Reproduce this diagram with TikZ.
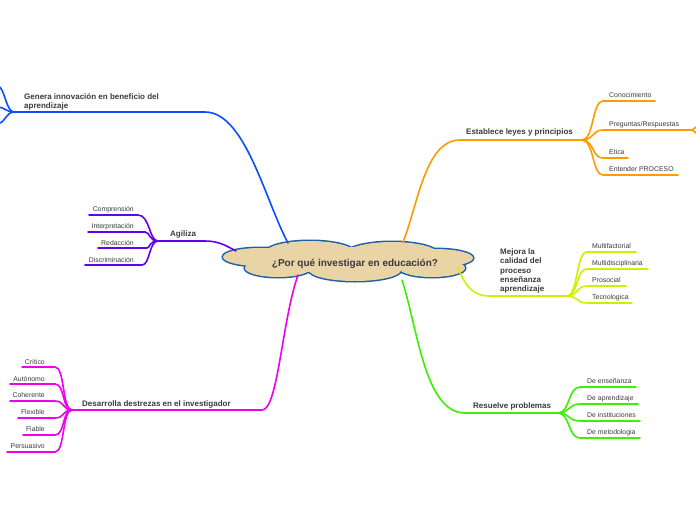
\documentclass[tikz,border=0pt]{standalone}
\usepackage{fontspec}
\setmainfont{Liberation Sans}
\definecolor{cblue}{HTML}{0A4EFF}
\definecolor{corange}{HTML}{FF9A00}
\definecolor{cyellow}{HTML}{CCF000}
\definecolor{cgreen}{HTML}{3CF000}
\definecolor{cmagenta}{HTML}{EE00EE}
\definecolor{cpurple}{HTML}{6000EE}
\definecolor{txt}{HTML}{3A3A3A}
\definecolor{cloudline}{HTML}{1F5FA8}
\definecolor{cloudfill}{HTML}{E9D4A6}
\begin{document}
\begin{tikzpicture}[x=1pt,y=-1pt,
  topic/.style={font=\fontsize{8}{9.2}\selectfont\bfseries, text=txt, inner sep=0pt, anchor=west, align=left},
  leaf/.style={font=\fontsize{6.9}{8}\selectfont, text=txt, inner sep=0pt, anchor=west},
  leafr/.style={leaf, anchor=east},
  br/.style={line width=1.6pt, line cap=round}]
\useasboundingbox (0,0) rectangle (696,520);
% cloud
\def\cloudparts{260/257/37/9, 435/258/38/9, 310/253/45/12, 392/254/46/12, 278/268/33/9, 355/270/46/11, 432/268/33/9}
\foreach \a/\b/\c/\d in \cloudparts {\draw[cloudline, line width=3pt] (\a,\b) ellipse [x radius=\c, y radius=\d];}
\foreach \a/\b/\c/\d in \cloudparts {\fill[cloudfill] (\a,\b) ellipse [x radius=\c, y radius=\d];}
\fill[cloudfill] (348,260) ellipse [x radius=95, y radius=13];
\node[font=\fontsize{10}{12}\selectfont\bfseries, text=txt, inner sep=0pt] (center) at (355,264) {¿Por qué investigar en educación?};

% blue
\coordinate (b0) at (288,243); \coordinate (b1) at (205,112); \coordinate (b2) at (14,112);
\draw[br,cblue] (b0) .. controls (265,200) and (245,112) .. (b1) -- (b2);
\coordinate (bl1) at (-2,86); \coordinate (bl2) at (-2,107); \coordinate (bl3) at (-2,124);
\draw[br,cblue] (b2) .. controls (6,112) and (5,88) .. (bl1);
\draw[br,cblue] (b2) .. controls (6,112) and (4,107) .. (bl2);
\draw[br,cblue] (b2) .. controls (6,112) and (5,123) .. (bl3);
\node[topic] (tblue) at (24,101.5) {Genera innovación en beneficio del\\aprendizaje};

% orange
\coordinate (o0) at (403,242); \coordinate (o1) at (460,140); \coordinate (o2) at (582,140);
\draw[br,corange] (o0) .. controls (418,205) and (425,140) .. (o1) -- (o2);
\node[topic] (torange) at (466,132.5) {Establece leyes y principios};
\foreach \y/\xe/\t [count=\i] in {101/655/Conocimiento, 130/688/Preguntas\slash Respuestas, 158/628/Etica, 175/678/Entender PROCESO} {
  \coordinate (os\i) at (603,\y); \coordinate (oe\i) at (\xe,\y);
  \draw[br,corange] (o2) .. controls (594,140) and (592,\y) .. (os\i) -- (oe\i);
  \node[leaf] (ol\i) at (609,\y-5.5) {\t};
}
\coordinate (or1) at (698,125); \coordinate (or2) at (698,135);
\draw[br,corange] (oe2) .. controls (693,130) .. (or1);
\draw[br,corange] (oe2) .. controls (693,130) .. (or2);

% yellow
\coordinate (y0) at (458,268); \coordinate (y1) at (490,296); \coordinate (y2) at (567,296);
\draw[br,cyellow] (y0) .. controls (465,285) and (472,296) .. (y1) -- (y2);
\node[topic] (tyellow) at (500,271) {Mejora la\\calidad del\\proceso\\enseñanza\\aprendizaje};
\foreach \y/\xe/\t [count=\i] in {252/636/Multifactorial, 269/648/Multidisciplinaria, 286/626/Prosocial, 303/632/Tecnologica} {
  \coordinate (ys\i) at (587,\y); \coordinate (ye\i) at (\xe,\y);
  \draw[br,cyellow] (y2) .. controls (578,296) and (576,\y) .. (ys\i) -- (ye\i);
  \node[leaf] (yl\i) at (592,\y-5.5) {\t};
}

% green
\coordinate (g0) at (402,280); \coordinate (g1) at (465,413); \coordinate (g2) at (558,413);
\draw[br,cgreen] (g0) .. controls (418,330) and (425,413) .. (g1) -- (g2);
\node[topic] (tgreen) at (473,406.5) {Resuelve problemas};
\foreach \y/\xe/\t [count=\i] in {387/636/De enseñanza, 404/638/De aprendizaje, 421/640/De instituciones, 438/640/De metodologia} {
  \coordinate (gs\i) at (580,\y); \coordinate (ge\i) at (\xe,\y);
  \draw[br,cgreen] (g2) .. controls (570,413) and (568,\y) .. (gs\i) -- (ge\i);
  \node[leaf] (gl\i) at (587,\y-5.5) {\t};
}

% magenta
\coordinate (m0) at (298,275); \coordinate (m1) at (262,410); \coordinate (m2) at (72,410);
\draw[br,cmagenta] (m0) .. controls (282,320) and (278,410) .. (m1) -- (m2);
\node[topic] (tmagenta) at (82,404.5) {Desarrolla destrezas en el investigador};
\foreach \y/\xl/\t [count=\i] in {367/22/Crítico, 384/10/Autónomo, 401/10/Coherente, 418/18/Flexible, 435/23/Fiable, 452/7/Persuasivo} {
  \coordinate (ms\i) at (55,\y); \coordinate (me\i) at (\xl,\y);
  \draw[br,cmagenta] (m2) .. controls (62,410) and (65,\y) .. (ms\i) -- (me\i);
  \node[leafr] (ml\i) at (45,\y-5.5) {\t};
}

% purple
\coordinate (p0) at (236,251); \coordinate (p1) at (205,241); \coordinate (p2) at (158,241);
\draw[br,cpurple] (p0) .. controls (225,245) and (218,241) .. (p1) -- (p2);
\node[topic] (tpurple) at (170,234.5) {Agiliza};
\foreach \y/\xe/\xl/\t [count=\i] in {215/138/89/Comprensión, 232/145/88/Interpretación, 248/147/98/Redacción, 265/142/85/Discriminación} {
  \coordinate (ps\i) at (\xe,\y); \coordinate (pe\i) at (\xl,\y);
  \draw[br,cpurple] (p2) .. controls (149,241) and (150,\y) .. (ps\i) -- (pe\i);
  \node[leafr] (pl\i) at (134,\y-5.5) {\t};
}
\end{tikzpicture}
\end{document}
